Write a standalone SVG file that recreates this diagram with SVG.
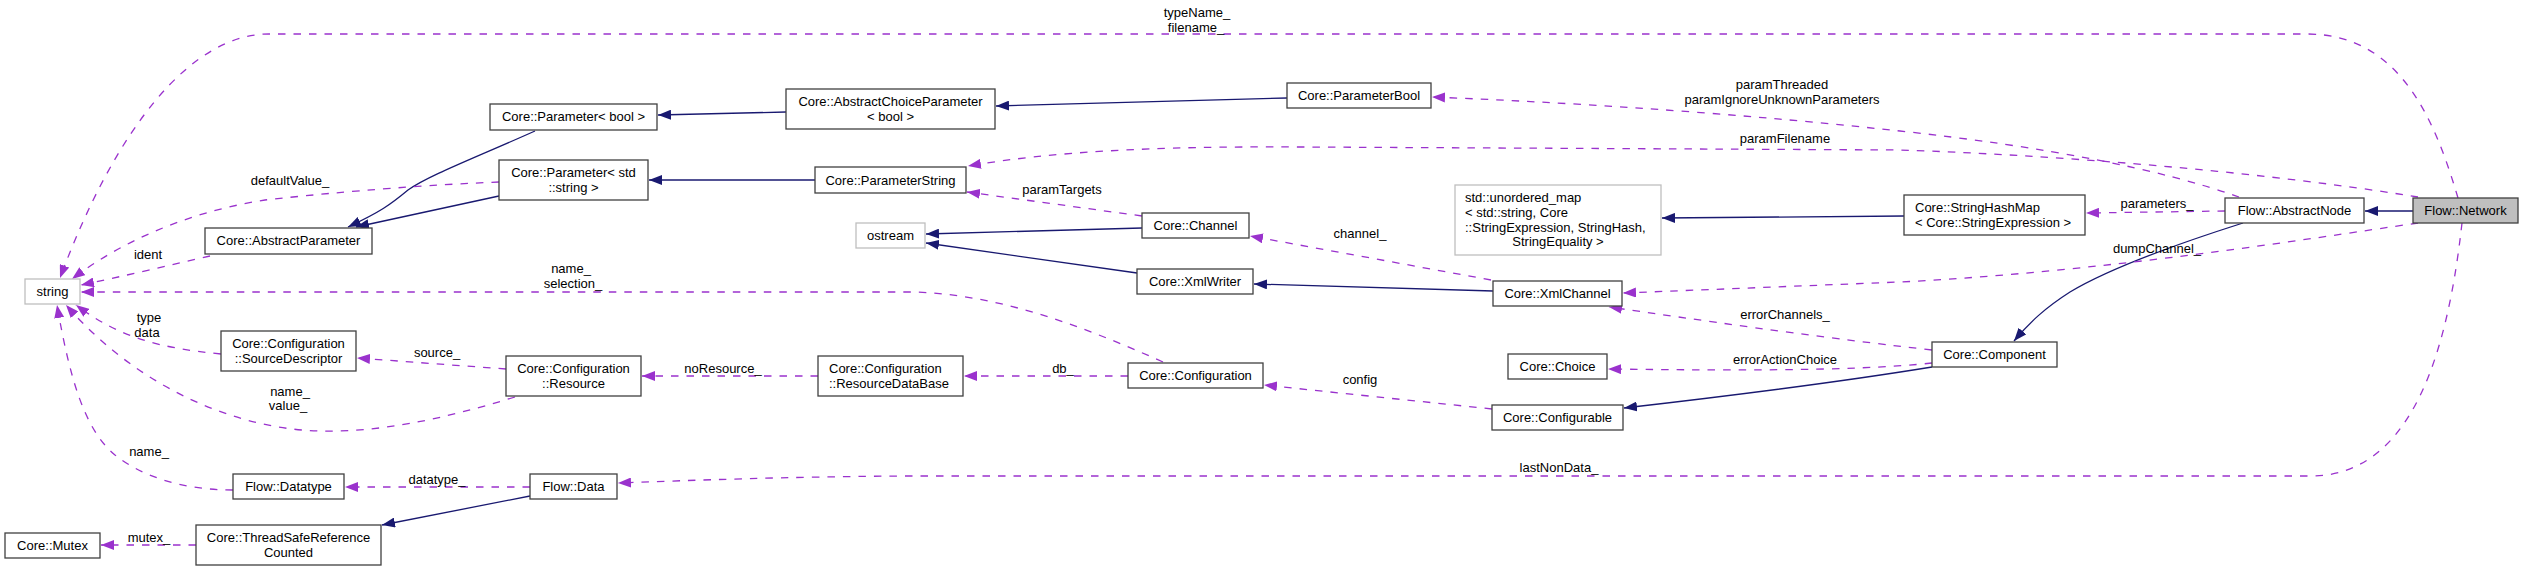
<svg xmlns="http://www.w3.org/2000/svg" width="2525" height="571" viewBox="0 0 2525 571">
<style>
text{font-family:"Liberation Sans",Arial,sans-serif;font-size:13px;fill:#000}
.c{text-anchor:middle}
.n rect{fill:#fff;stroke:#404040;stroke-width:1.3}
.g rect{fill:#fff;stroke:#bfbfbf;stroke-width:1.3}
.sel rect{fill:#bfbfbf;stroke:#404040;stroke-width:1.3}
.u{fill:none;stroke:#9a32cd;stroke-width:1.3;stroke-dasharray:7.5,8;marker-end:url(#ap)}
.i{fill:none;stroke:#191970;stroke-width:1.3;marker-end:url(#an)}
</style>
<defs>
<marker id="ap" markerUnits="userSpaceOnUse" markerWidth="14" markerHeight="10" refX="13" refY="5" orient="auto"><path d="M0,0 L13,5 L0,10 z" fill="#9a32cd"/></marker>
<marker id="an" markerUnits="userSpaceOnUse" markerWidth="14" markerHeight="10" refX="13" refY="5" orient="auto"><path d="M0,0 L13,5 L0,10 z" fill="#191970"/></marker>
</defs>
<rect width="2525" height="571" fill="#fff"/>
<g id="connectors">
<path class="i" d="M535,131 C470,160 430,175 408,190 C390,205 380,212 348,227"/>
<path class="i" d="M499,196 L356,227"/>
<path class="i" d="M786,112 L658,115"/>
<path class="i" d="M1287,98 L996,106"/>
<path class="i" d="M815,180 L649,180"/>
<path class="i" d="M1142,228 L926,234"/>
<path class="i" d="M1137,273 L926,243"/>
<path class="i" d="M1493,291 L1254,284"/>
<path class="i" d="M1904,216 L1662,218"/>
<path class="i" d="M2243,223 C2180,243 2110,268 2070,292 C2045,308 2030,322 2014,341"/>
<path class="i" d="M2413,211 L2365,211"/>
<path class="i" d="M1932,367 C1840,382 1720,397 1624,408"/>
<path class="i" d="M530,496 L382,525"/>
<path class="u" d="M2458,198 C2435,120 2400,34 2307,34 L269,34 C190,34 115,130 60,278"/>
<path class="u" d="M2239,197 Q2120,155 1900,131 T1432,97"/>
<path class="u" d="M2418,197 C2250,170 2050,155 1900,150 L1300,147 C1150,146 1050,152 968,166"/>
<path class="u" d="M1142,216 L967,192"/>
<path class="u" d="M1491,280 L1250,236"/>
<path class="u" d="M2418,223 C2300,240 2100,272 1900,282 L1623,293"/>
<path class="u" d="M1932,350 C1800,335 1700,320 1609,307"/>
<path class="u" d="M1932,363 C1850,372 1700,370 1608,369"/>
<path class="u" d="M1492,409 L1264,385"/>
<path class="u" d="M1128,376 L964,376"/>
<path class="u" d="M818,376 L642,376"/>
<path class="u" d="M506,369 L357,358"/>
<path class="u" d="M221,354 C160,348 120,338 76,305"/>
<path class="u" d="M515,397 C440,420 380,432 322,431 C240,430 140,390 66,305"/>
<path class="u" d="M233,490 C180,490 140,475 115,455 C85,430 70,380 57,305"/>
<path class="u" d="M530,487 L345,487"/>
<path class="u" d="M196,545 L101,545"/>
<path class="u" d="M2462,223 C2450,330 2420,476 2311,476 L900,476 C780,477 700,480 618,483"/>
<path class="u" d="M2225,211 L2086,213"/>
<path class="u" d="M210,256 C170,265 120,277 81,285"/>
<path class="u" d="M499,182 C400,186 310,195 265,200 C200,210 130,235 72,279"/>
<path class="u" d="M1163,362 C1080,325 1000,295 915,292 L81,292"/>
<g id="edge-labels">
<text class="c" x="1197" y="16.5">typeName_</text>
<text class="c" x="1196" y="31.5">filename_</text>
<text class="c" x="1782" y="88.5">paramThreaded</text>
<text class="c" x="1782" y="103.5">paramIgnoreUnknownParameters</text>
<text class="c" x="1785" y="142.5">paramFilename</text>
<text class="c" x="290" y="184.5">defaultValue_</text>
<text class="c" x="148" y="258.5">ident</text>
<text class="c" x="571" y="272.5">name_</text>
<text class="c" x="573" y="287.5">selection_</text>
<text class="c" x="1062" y="193.5">paramTargets</text>
<text class="c" x="1360" y="237.5">channel_</text>
<text class="c" x="2157" y="207.5">parameters_</text>
<text class="c" x="2157" y="252.5">dumpChannel_</text>
<text class="c" x="1785" y="318.5">errorChannels_</text>
<text class="c" x="1785" y="363.5">errorActionChoice</text>
<text class="c" x="1360" y="383.5">config</text>
<text class="c" x="1063" y="372.5">db_</text>
<text class="c" x="723" y="372.5">noResource_</text>
<text class="c" x="437" y="356.5">source_</text>
<text class="c" x="149" y="321.5">type</text>
<text class="c" x="147" y="336.5">data</text>
<text class="c" x="290" y="395.5">name_</text>
<text class="c" x="288" y="409.5">value_</text>
<text class="c" x="149" y="455.5">name_</text>
<text class="c" x="437" y="483.5">datatype_</text>
<text class="c" x="149" y="541.5">mutex_</text>
<text class="c" x="1559" y="471.5">lastNonData_</text>
</g>
</g>
<g id="n-string" class="g"><rect x="25" y="279" width="55" height="25"/><text class="c" x="52.5" y="296">string</text></g>
<g id="n-mutex" class="n"><rect x="5" y="533" width="95" height="25"/><text class="c" x="52.5" y="550">Core::Mutex</text></g>
<g id="n-tsrc" class="n"><rect x="196" y="525" width="185" height="40"/><text class="c" x="288.5" y="541.5">Core::ThreadSafeReference</text><text class="c" x="288.5" y="556.5">Counted</text></g>
<g id="n-datatype" class="n"><rect x="233" y="474" width="111" height="25"/><text class="c" x="288.5" y="491">Flow::Datatype</text></g>
<g id="n-data" class="n"><rect x="530" y="474" width="87" height="25"/><text class="c" x="573.5" y="491">Flow::Data</text></g>
<g id="n-srcdesc" class="n"><rect x="221" y="331" width="135" height="40"/><text class="c" x="288.5" y="347.5">Core::Configuration</text><text class="c" x="288.5" y="362.5">::SourceDescriptor</text></g>
<g id="n-resource" class="n"><rect x="506" y="356" width="135" height="40"/><text class="c" x="573.5" y="372.5">Core::Configuration</text><text class="c" x="573.5" y="387.5">::Resource</text></g>
<g id="n-resdb" class="n"><rect x="818" y="356" width="145" height="40"/><text x="829" y="372.5">Core::Configuration</text><text x="829" y="387.5">::ResourceDataBase</text></g>
<g id="n-configuration" class="n"><rect x="1128" y="363" width="135" height="25"/><text class="c" x="1195.5" y="380">Core::Configuration</text></g>
<g id="n-absparam" class="n"><rect x="205" y="228" width="167" height="26"/><text class="c" x="288.5" y="245">Core::AbstractParameter</text></g>
<g id="n-parambool" class="n"><rect x="490" y="104" width="167" height="26"/><text class="c" x="573.5" y="121">Core::Parameter&lt; bool &gt;</text></g>
<g id="n-paramstd" class="n"><rect x="499" y="160" width="149" height="40"/><text class="c" x="573.5" y="176.5">Core::Parameter&lt; std</text><text class="c" x="573.5" y="191.5">::string &gt;</text></g>
<g id="n-acp" class="n"><rect x="786" y="89" width="209" height="40"/><text class="c" x="890.5" y="105.5">Core::AbstractChoiceParameter</text><text class="c" x="890.5" y="120.5">&lt; bool &gt;</text></g>
<g id="n-paramstring" class="n"><rect x="815" y="167" width="151" height="26"/><text class="c" x="890.5" y="184.5">Core::ParameterString</text></g>
<g id="n-ostream" class="g"><rect x="856" y="223" width="69" height="25"/><text class="c" x="890.5" y="240">ostream</text></g>
<g id="n-channel" class="n"><rect x="1142" y="213" width="107" height="25"/><text class="c" x="1195.5" y="230">Core::Channel</text></g>
<g id="n-xmlwriter" class="n"><rect x="1137" y="269" width="116" height="25"/><text class="c" x="1195" y="286">Core::XmlWriter</text></g>
<g id="n-parameterbool" class="n"><rect x="1287" y="83" width="144" height="25"/><text class="c" x="1359" y="100">Core::ParameterBool</text></g>
<g id="n-umap" class="g"><rect x="1455" y="185" width="206" height="70"/><text x="1465" y="201.5">std::unordered_map</text><text x="1465" y="216.5">&lt; std::string, Core</text><text x="1465" y="231.5">::StringExpression, StringHash,</text><text class="c" x="1558" y="246">StringEquality &gt;</text></g>
<g id="n-xmlchannel" class="n"><rect x="1493" y="281" width="129" height="25"/><text class="c" x="1557.5" y="298">Core::XmlChannel</text></g>
<g id="n-choice" class="n"><rect x="1508" y="354" width="99" height="25"/><text class="c" x="1557.5" y="371">Core::Choice</text></g>
<g id="n-configurable" class="n"><rect x="1492" y="405" width="131" height="25"/><text class="c" x="1557.5" y="422">Core::Configurable</text></g>
<g id="n-shm" class="n"><rect x="1904" y="195" width="181" height="40"/><text x="1915" y="211.5">Core::StringHashMap</text><text x="1915" y="226.5">&lt; Core::StringExpression &gt;</text></g>
<g id="n-component" class="n"><rect x="1932" y="342" width="125" height="25"/><text class="c" x="1994.5" y="359">Core::Component</text></g>
<g id="n-abstractnode" class="n"><rect x="2225" y="198" width="139" height="25"/><text class="c" x="2294.5" y="215">Flow::AbstractNode</text></g>
<g id="n-network" class="sel"><rect x="2413" y="198" width="105" height="25"/><text class="c" x="2465.5" y="215">Flow::Network</text></g>
</svg>
